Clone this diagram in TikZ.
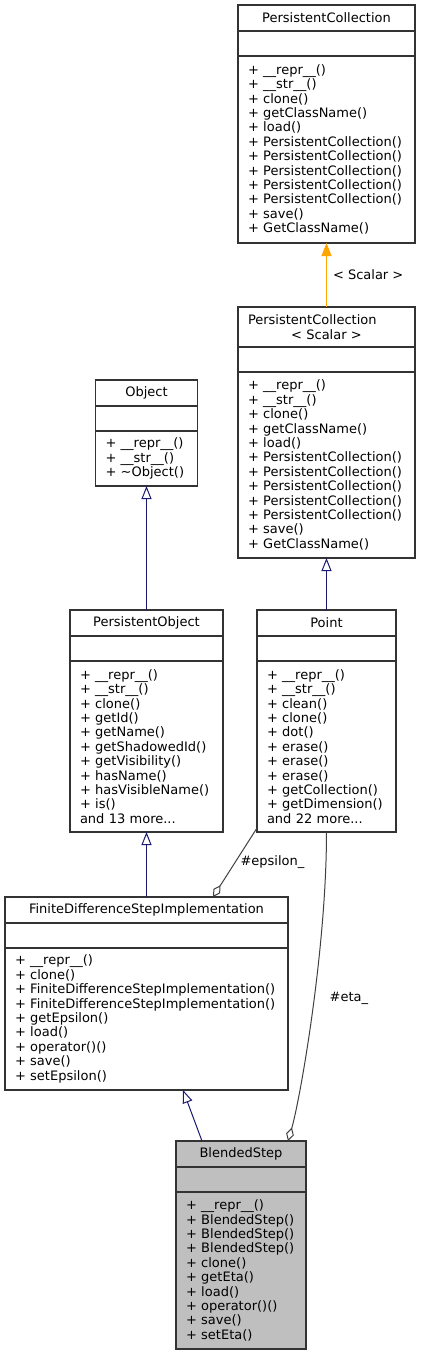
\documentclass[tikz,border=0pt]{standalone}
\usepackage{fontspec}
\setmainfont{DejaVu Sans}
\usetikzlibrary{positioning,arrows.meta}

\definecolor{boxline}{HTML}{333333}
\definecolor{edgeblue}{HTML}{191970}
\definecolor{edgeorange}{HTML}{FFA500}
\definecolor{edgegray}{HTML}{404040}
\definecolor{current}{HTML}{BFBFBF}

\newcommand{\umlfont}{\fontsize{13}{14.4}\selectfont}

\begin{document}
\begin{tikzpicture}[x=1pt, y=1pt,
  umlbox/.style={draw=boxline, line width=1.2pt, inner xsep=10pt, inner ysep=0pt,
    outer sep=0pt, font=\umlfont, text width=#1},
  titlepart/.style={umlbox=#1, align=center, minimum height=26pt, anchor=north},
  attrpart/.style={umlbox=#1, minimum height=25pt},
  opspart/.style={umlbox=#1, align=left},
  edgelabel/.style={font=\umlfont, inner sep=1pt},
  inherit/.style={draw=edgeblue, line width=1pt, -{Triangle[open, length=13pt, width=10pt]}},
  templ/.style={draw=edgeorange, line width=1pt, -{Triangle[length=13pt, width=10pt]}},
  usage/.style={draw=edgegray, line width=1pt, -{Diamond[open, length=14pt, width=8pt]}}]

\def\pcops{+ \_\_repr\_\_()\\+ \_\_str\_\_()\\+ clone()\\+ getClassName()\\+ load()\\
  + PersistentCollection()\\+ PersistentCollection()\\+ PersistentCollection()\\
  + PersistentCollection()\\+ PersistentCollection()\\+ save()\\+ GetClassName()}

\useasboundingbox (0,0) rectangle (421,-1355);

% PersistentCollection
\node[titlepart=157pt] (pc) at (326.5,-5) {PersistentCollection};
\node[attrpart=157pt, below=0pt of pc] (pc-attr) {};
\node[opspart=157pt, minimum height=187pt, below=0pt of pc-attr] (pc-ops) {\pcops};

% PersistentCollection< Scalar >
\node[titlepart=157pt, minimum height=40pt] (pcs) at (326.5,-307)
  {\makebox[157pt][l]{PersistentCollection}\\< Scalar >};
\node[attrpart=157pt, below=0pt of pcs] (pcs-attr) {};
\node[opspart=157pt, minimum height=186pt, below=0pt of pcs-attr] (pcs-ops) {\pcops};

% Object
\node[titlepart=82pt] (obj) at (146.5,-380) {Object};
\node[attrpart=82pt, below=0pt of obj] (obj-attr) {};
\node[opspart=82pt, minimum height=55pt, below=0pt of obj-attr] (obj-ops)
  {+ \_\_repr\_\_()\\+ \_\_str\_\_()\\+ \textasciitilde Object()};

% PersistentObject
\node[titlepart=133pt] (po) at (146.5,-610) {PersistentObject};
\node[attrpart=133pt, below=0pt of po] (po-attr) {};
\node[opspart=133pt, minimum height=171pt, below=0pt of po-attr] (po-ops)
  {+ \_\_repr\_\_()\\+ \_\_str\_\_()\\+ clone()\\+ getId()\\+ getName()\\
   + getShadowedId()\\+ getVisibility()\\+ hasName()\\+ hasVisibleName()\\
   + is()\\and 13 more...};

% Point
\node[titlepart=119pt] (pt) at (326.5,-610) {Point};
\node[attrpart=119pt, below=0pt of pt] (pt-attr) {};
\node[opspart=119pt, minimum height=171pt, below=0pt of pt-attr] (pt-ops)
  {+ \_\_repr\_\_()\\+ \_\_str\_\_()\\+ clean()\\+ clone()\\+ dot()\\
   + erase()\\+ erase()\\+ erase()\\+ getCollection()\\+ getDimension()\\
   and 22 more...};

% FiniteDifferenceStepImplementation
\node[titlepart=263pt] (fdsi) at (146.5,-897) {FiniteDifferenceStepImplementation};
\node[attrpart=263pt, below=0pt of fdsi] (fdsi-attr) {};
\node[opspart=263pt, minimum height=142pt, below=0pt of fdsi-attr] (fdsi-ops)
  {+ \_\_repr\_\_()\\+ clone()\\+ FiniteDifferenceStepImplementation()\\
   + FiniteDifferenceStepImplementation()\\+ getEpsilon()\\+ load()\\
   + operator()()\\+ save()\\+ setEpsilon()};

% BlendedStep
\node[titlepart=110pt, fill=current] (bs) at (241,-1141) {BlendedStep};
\node[attrpart=110pt, fill=current, below=0pt of bs] (bs-attr) {};
\node[opspart=110pt, fill=current, minimum height=157pt, below=0pt of bs-attr] (bs-ops)
  {+ \_\_repr\_\_()\\+ BlendedStep()\\+ BlendedStep()\\+ BlendedStep()\\
   + clone()\\+ getEta()\\+ load()\\+ operator()()\\+ save()\\+ setEta()};

% links
\draw[templ] (pcs.north) -- (pc-ops.south) node[edgelabel, midway, right=5pt] {< Scalar >};
\draw[inherit] (po.north) -- (obj-ops.south);
\draw[inherit] (pt.north) -- (pcs-ops.south);
\draw[inherit] (fdsi.north) -- (po-ops.south);
\draw[inherit] ([xshift=-39pt]bs.north) -- ([xshift=36.5pt]fdsi-ops.south);
\draw[usage] ([yshift=4pt]pt-ops.south west) -- ([xshift=66.5pt]fdsi.north)
  node[edgelabel, midway, right=4pt] {\#epsilon\_};
\draw[usage] (pt-ops.south) .. controls +(0,-118) and +(12,41) .. ([xshift=47pt]bs.north)
  node[edgelabel, pos=0.45, right=14pt] {\#eta\_};
\end{tikzpicture}
\end{document}
